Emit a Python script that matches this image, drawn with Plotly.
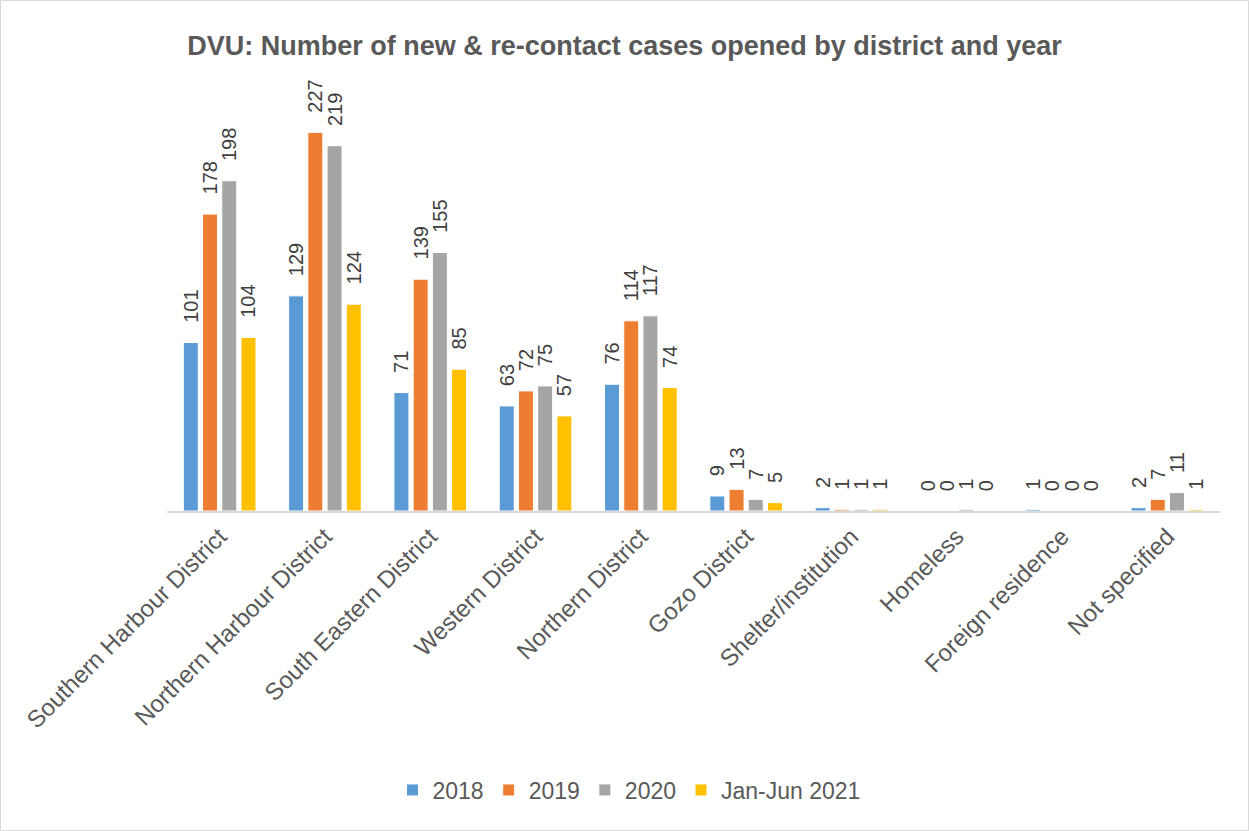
import plotly.graph_objects as go

districts = ["Southern Harbour District", "Northern Harbour District", "South Eastern District",
             "Western District", "Northern District", "Gozo District", "Shelter/institution",
             "Homeless", "Foreign residence", "Not specified"]
y2018 = [101, 129, 71, 63, 76, 9, 2, 0, 1, 2]
y2019 = [178, 227, 139, 72, 114, 13, 1, 0, 0, 7]
y2020 = [198, 219, 155, 75, 117, 7, 1, 1, 0, 11]
y2021 = [104, 124, 85, 57, 74, 5, 1, 0, 0, 1]

series = [("2018", y2018, "#5b9bd5"), ("2019", y2019, "#ed7d31"),
          ("2020", y2020, "#a5a5a5"), ("Jan-Jun 2021", y2021, "#ffc000")]

fig = go.Figure()
for name, vals, col in series:
    fig.add_trace(go.Bar(x=districts, y=vals, name=name, marker_color=col,
                         marker_line=dict(color="white", width=1),
                         text=vals, texttemplate="\u00a0\u00a0\u00a0%{text}",
                         textposition="outside", textangle=-90,
                         textfont=dict(size=20, color="#404040"), cliponaxis=False))

W, H = 1249, 831
ml, mr, mt, mb = 167, 29, 94, 320
pw, ph = W - ml - mr, H - mt - mb

fig.update_layout(
    width=W, height=H, barmode="group", bargap=0.27, bargroupgap=0.22,
    margin=dict(l=ml, r=mr, t=mt, b=mb, autoexpand=False),
    plot_bgcolor="white", paper_bgcolor="white",
    font=dict(family="Liberation Sans, Arial, sans-serif", color="#595959"),
    title=dict(text="<b>DVU: Number of new & re-contact cases opened by district and year</b>",
               x=0.5, xanchor="center", y=0.945, yanchor="middle",
               font=dict(size=27, color="#595959")),
    legend=dict(orientation="h", x=(629 - ml) / pw, xanchor="center", y=(511 - 790) / ph,
                yanchor="middle", font=dict(size=23, color="#595959"), traceorder="normal"),
    uniformtext=dict(minsize=20, mode="show"),
)
fig.update_xaxes(tickangle=-45, tickfont=dict(size=24, color="#595959"), automargin=False,
                 showline=True, linecolor="#d9d9d9", linewidth=2, ticks="")
fig.update_yaxes(range=[0, 250], visible=False, showgrid=False, automargin=False)

fig.add_shape(type="rect", xref="paper", yref="paper",
              x0=-ml / pw + 0.0005, x1=1 + mr / pw - 0.0005, y0=-mb / ph + 0.001, y1=1 + mt / ph - 0.001,
              line=dict(color="#d9d9d9", width=1))

fig.write_html("out.html", config={"displayModeBar": False},
               post_script="document.body.style.margin='0px';")
